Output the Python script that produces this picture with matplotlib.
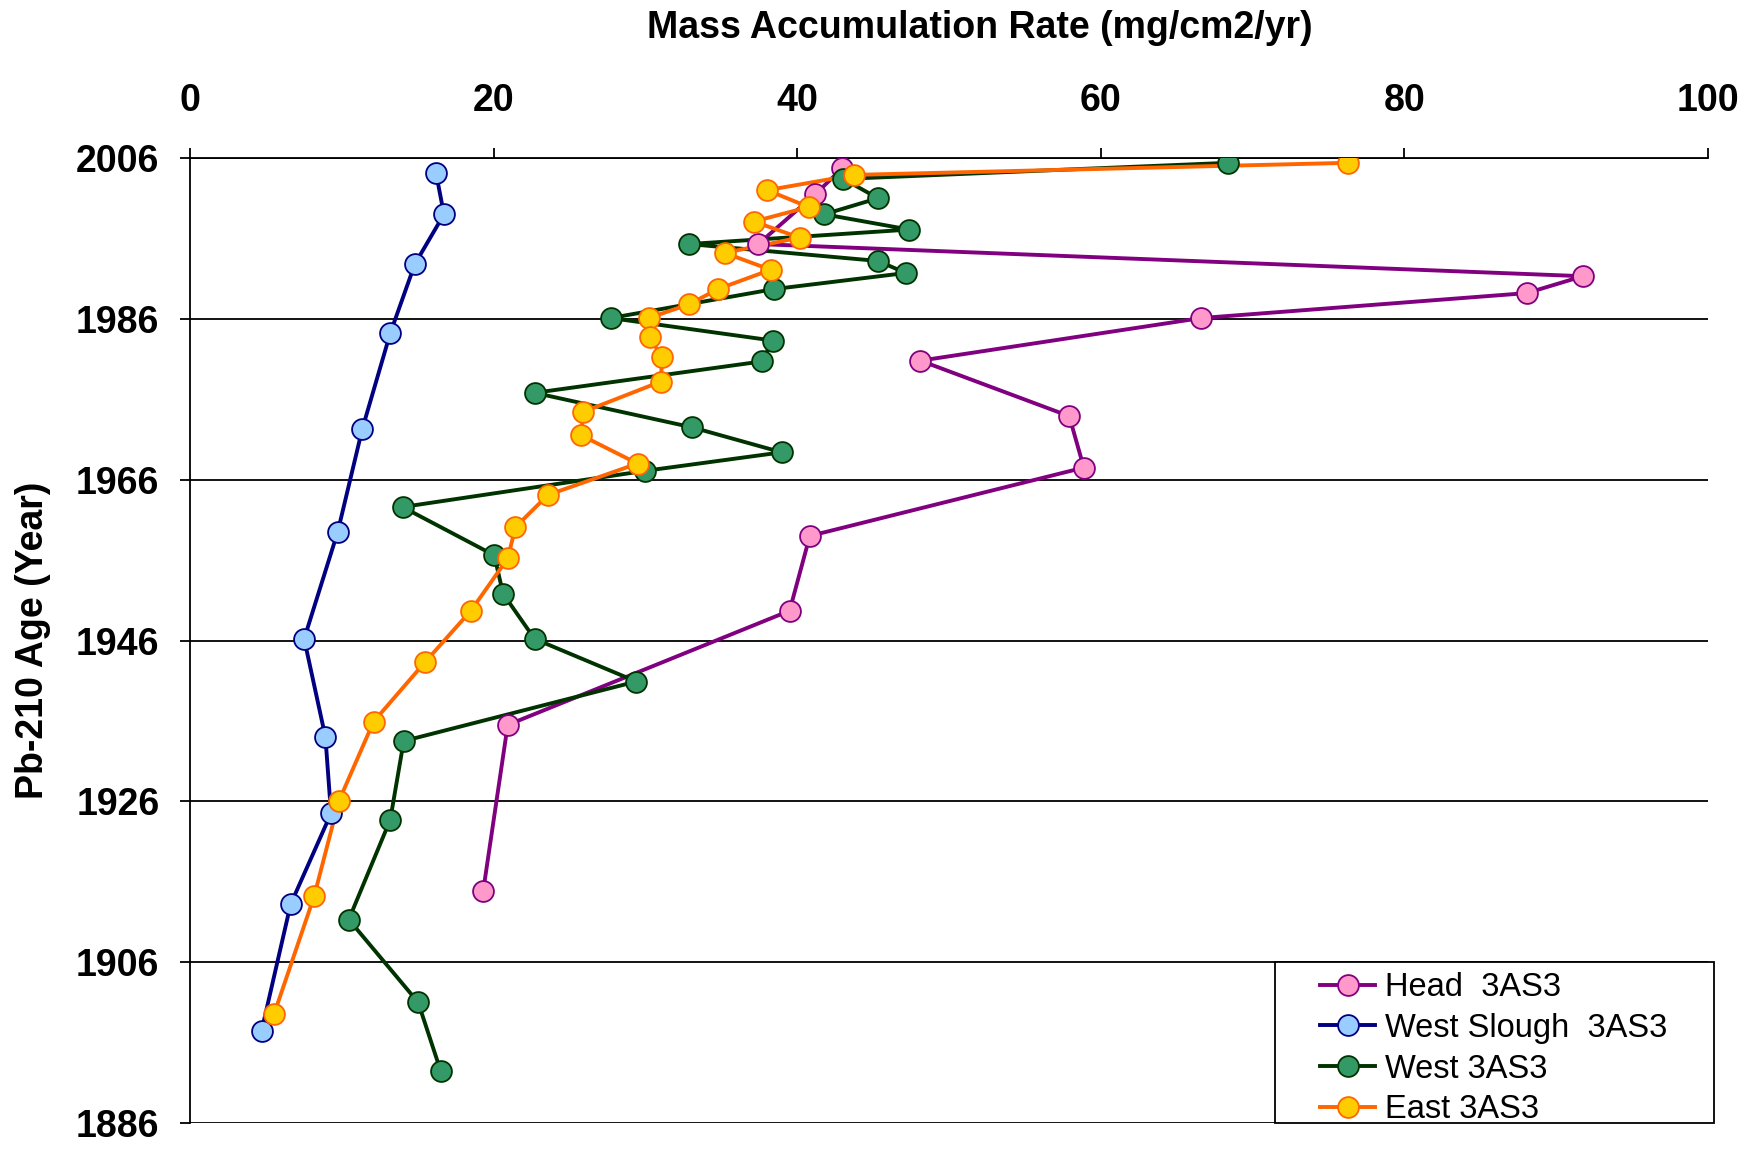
import matplotlib.pyplot as plt
from matplotlib.lines import Line2D
from matplotlib.patches import Rectangle

plt.rcParams['font.family'] = ['Liberation Sans', 'DejaVu Sans']

# Head 3AS3
head_x = [42.96, 41.19, 37.44, 91.75, 88.06, 66.62, 48.12, 57.92, 58.88, 40.83, 39.50, 20.93, 19.31]
head_y = [2004.7, 2001.5, 1995.3, 1991.3, 1989.2, 1986.1, 1980.8, 1973.9, 1967.5, 1959.0, 1949.7, 1935.5, 1914.8]

# West Slough 3AS3
wslough_x = [16.21, 16.73, 14.81, 13.19, 11.35, 9.73, 7.52, 8.92, 9.29, 6.63, 4.72]
wslough_y = [2004.1, 1999.0, 1992.8, 1984.2, 1972.3, 1959.5, 1946.2, 1934.0, 1924.5, 1913.2, 1897.5]

# West 3AS3
west_x = [68.39, 43.04, 45.32, 41.78, 47.38, 32.87, 45.32, 47.16, 38.47, 27.71, 38.39, 37.66, 22.70,
          33.09, 38.98, 29.99, 14.00, 20.04, 20.63, 22.70, 29.40, 14.08, 13.19, 10.46, 15.03, 16.51]
west_y = [2005.4, 2003.4, 2001.0, 1999.0, 1997.1, 1995.3, 1993.2, 1991.7, 1989.7, 1986.1, 1983.3, 1980.7, 1976.8,
          1972.5, 1969.4, 1967.1, 1962.6, 1956.6, 1951.8, 1946.2, 1940.9, 1933.5, 1923.7, 1911.3, 1901.0, 1892.5]

# East 3AS3
east_x = [76.27, 43.77, 38.03, 40.75, 37.14, 40.16, 35.22, 38.25, 34.78, 32.87, 30.21, 30.29, 31.10,
          31.02, 25.87, 25.79, 29.48, 23.58, 21.44, 20.93, 18.50, 15.48, 12.09, 9.80, 8.18, 5.53]
east_y = [2005.4, 2003.9, 2002.0, 1999.9, 1998.1, 1996.1, 1994.2, 1992.1, 1989.7, 1987.8, 1986.1, 1983.7, 1981.2,
          1978.2, 1974.4, 1971.5, 1968.0, 1964.1, 1960.1, 1956.2, 1949.7, 1943.3, 1935.9, 1926.0, 1914.2, 1899.5]

series = [
    ("Head  3AS3", head_x, head_y, "#800080", "#FF99CC", "#800080"),
    ("West Slough  3AS3", wslough_x, wslough_y, "#000080", "#99CCFF", "#000080"),
    ("West 3AS3", west_x, west_y, "#003300", "#339966", "#003300"),
    ("East 3AS3", east_x, east_y, "#FF6600", "#FFCC00", "#FF6600"),
]

W, H = 1754, 1150
fig = plt.figure(figsize=(W / 100, H / 100), dpi=100)
ax = fig.add_axes([190 / W, 1 - 1123 / H, (1708 - 190) / W, (1123 - 158) / H])

handles = []
for name, xs, ys, lc, fc, ec in series:
    ax.plot(xs, ys, color=lc, lw=2.8, zorder=3, solid_joinstyle='round')
    ax.plot(xs, ys, ls='none', marker='o', ms=15, mfc=fc, mec=ec, mew=1.3, zorder=4)
    handles.append(Line2D([], [], color=lc, lw=2.8, marker='o', ms=15, mfc=fc, mec=ec, mew=1.3))

ax.set_xlim(0, 100)
ax.set_ylim(1886, 2006)
ax.set_xticks(range(0, 101, 20))
ax.set_yticks(range(1886, 2007, 20))
ax.xaxis.tick_top()
ax.tick_params(axis='x', direction='out', length=7, width=1.3, pad=21, labelsize=27)
ax.tick_params(axis='y', direction='out', length=7, width=1.3, pad=15, labelsize=27)
for lab in ax.get_xticklabels() + ax.get_yticklabels():
    lab.set_fontweight('bold')

ax.yaxis.grid(True, color='black', lw=1.3, zorder=1)
ax.set_axisbelow(True)
for s in ['right', 'bottom']:
    ax.spines[s].set_visible(False)
ax.spines['left'].set_linewidth(1.3)
ax.spines['top'].set_linewidth(1.3)

fig.text(980 / W, 1 - 28 / H, "Mass Accumulation Rate (mg/cm2/yr)", ha='center', va='center',
         fontsize=27, fontweight='bold')
fig.text(33 / W, 1 - 640 / H, "Pb-210 Age (Year)", ha='center', va='center', rotation=90,
         fontsize=27, fontweight='bold')

# legend frame drawn separately to match the wide padding
fig.patches.append(Rectangle((1275 / W, 1 - 1123 / H), (1714 - 1275) / W, (1123 - 962) / H,
                             transform=fig.transFigure, facecolor='white', edgecolor='black',
                             lw=1.3, zorder=5))
leg = fig.legend(handles, [s[0] for s in series], loc='upper left',
                 bbox_to_anchor=(1320 / W, 1 - 972 / H), frameon=False, fontsize=23.5,
                 borderaxespad=0, borderpad=0, handlelength=1.7, handletextpad=0.3,
                 labelspacing=0.3)
leg.set_zorder(6)

fig.savefig("out.png", dpi=100)
